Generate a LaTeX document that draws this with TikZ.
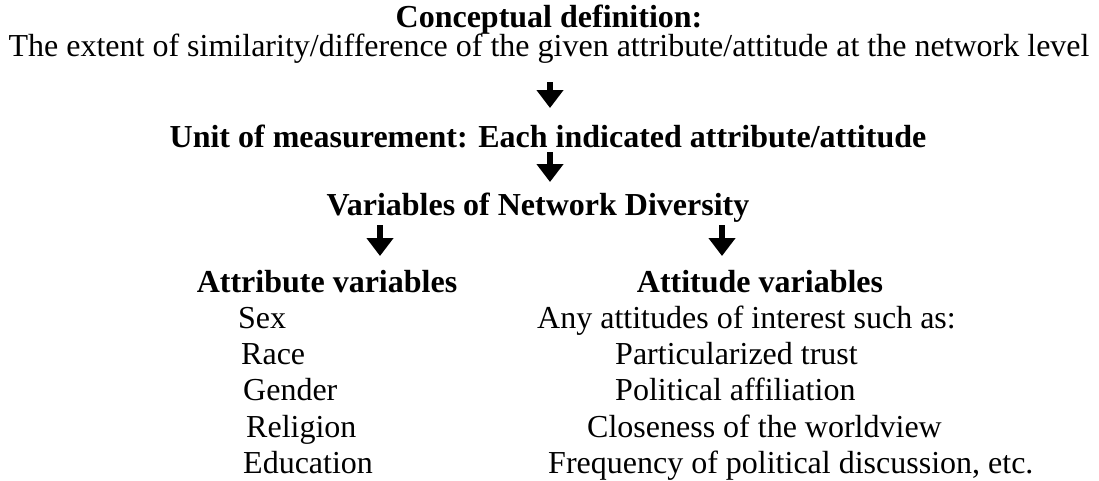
\documentclass[tikz,border=0pt]{standalone}
\usepackage{fontspec}
\setmainfont{Liberation Serif}
\usetikzlibrary{arrows.meta}
\tikzset{
  txt/.style={inner sep=0pt, font=\fontsize{32}{38}\selectfont},
  head/.style={txt, font=\fontsize{32}{38}\selectfont\bfseries},
  blockarrow/.style={line width=6pt, -{Triangle[width=26pt,length=18pt]}}
}
\begin{document}
\begin{tikzpicture}[x=1pt,y=-1pt]
\useasboundingbox (0,0) rectangle (1099,480);
\node[head, anchor=base] (title) at (549,27) {Conceptual definition:};
\node[txt, anchor=base] (def) at (549,56) {The extent of similarity/difference of the given attribute/attitude at the network level};
\node[head, anchor=base] (unit) at (548,147) {Unit of measurement: Each indicated attribute/attitude};
\node[head, anchor=base] (vars) at (538,215) {Variables of Network Diversity};
\node[head, anchor=base] (attr) at (327,292) {Attribute variables};
\node[head, anchor=base] (atti) at (760,292) {Attitude variables};
\node[txt, anchor=base west] (sex) at (238,328) {Sex};
\node[txt, anchor=base west] (race) at (241,364) {Race};
\node[txt, anchor=base west] (gender) at (243,400) {Gender};
\node[txt, anchor=base west] (relig) at (246,437) {Religion};
\node[txt, anchor=base west] (educ) at (243,473) {Education};
\node[txt, anchor=base west] (any) at (537,328) {Any attitudes of interest such as:};
\node[txt, anchor=base west] (trust) at (615,364) {Particularized trust};
\node[txt, anchor=base west] (polit) at (615,400) {Political affiliation};
\node[txt, anchor=base west] (close) at (587,437) {Closeness of the worldview};
\node[txt, anchor=base west] (freq) at (548,473) {Frequency of political discussion, etc.};
\coordinate (a1s) at (550,82);
\coordinate (a1e) at (550,108);
\coordinate (a2s) at (550,152);
\coordinate (a2e) at (550,182);
\coordinate (a3s) at (380,225);
\coordinate (a3e) at (380,256);
\coordinate (a4s) at (722,225);
\coordinate (a4e) at (722,256);
\draw[blockarrow] (a1s) -- (a1e);
\draw[blockarrow] (a2s) -- (a2e);
\draw[blockarrow] (a3s) -- (a3e);
\draw[blockarrow] (a4s) -- (a4e);
\end{tikzpicture}
\end{document}
